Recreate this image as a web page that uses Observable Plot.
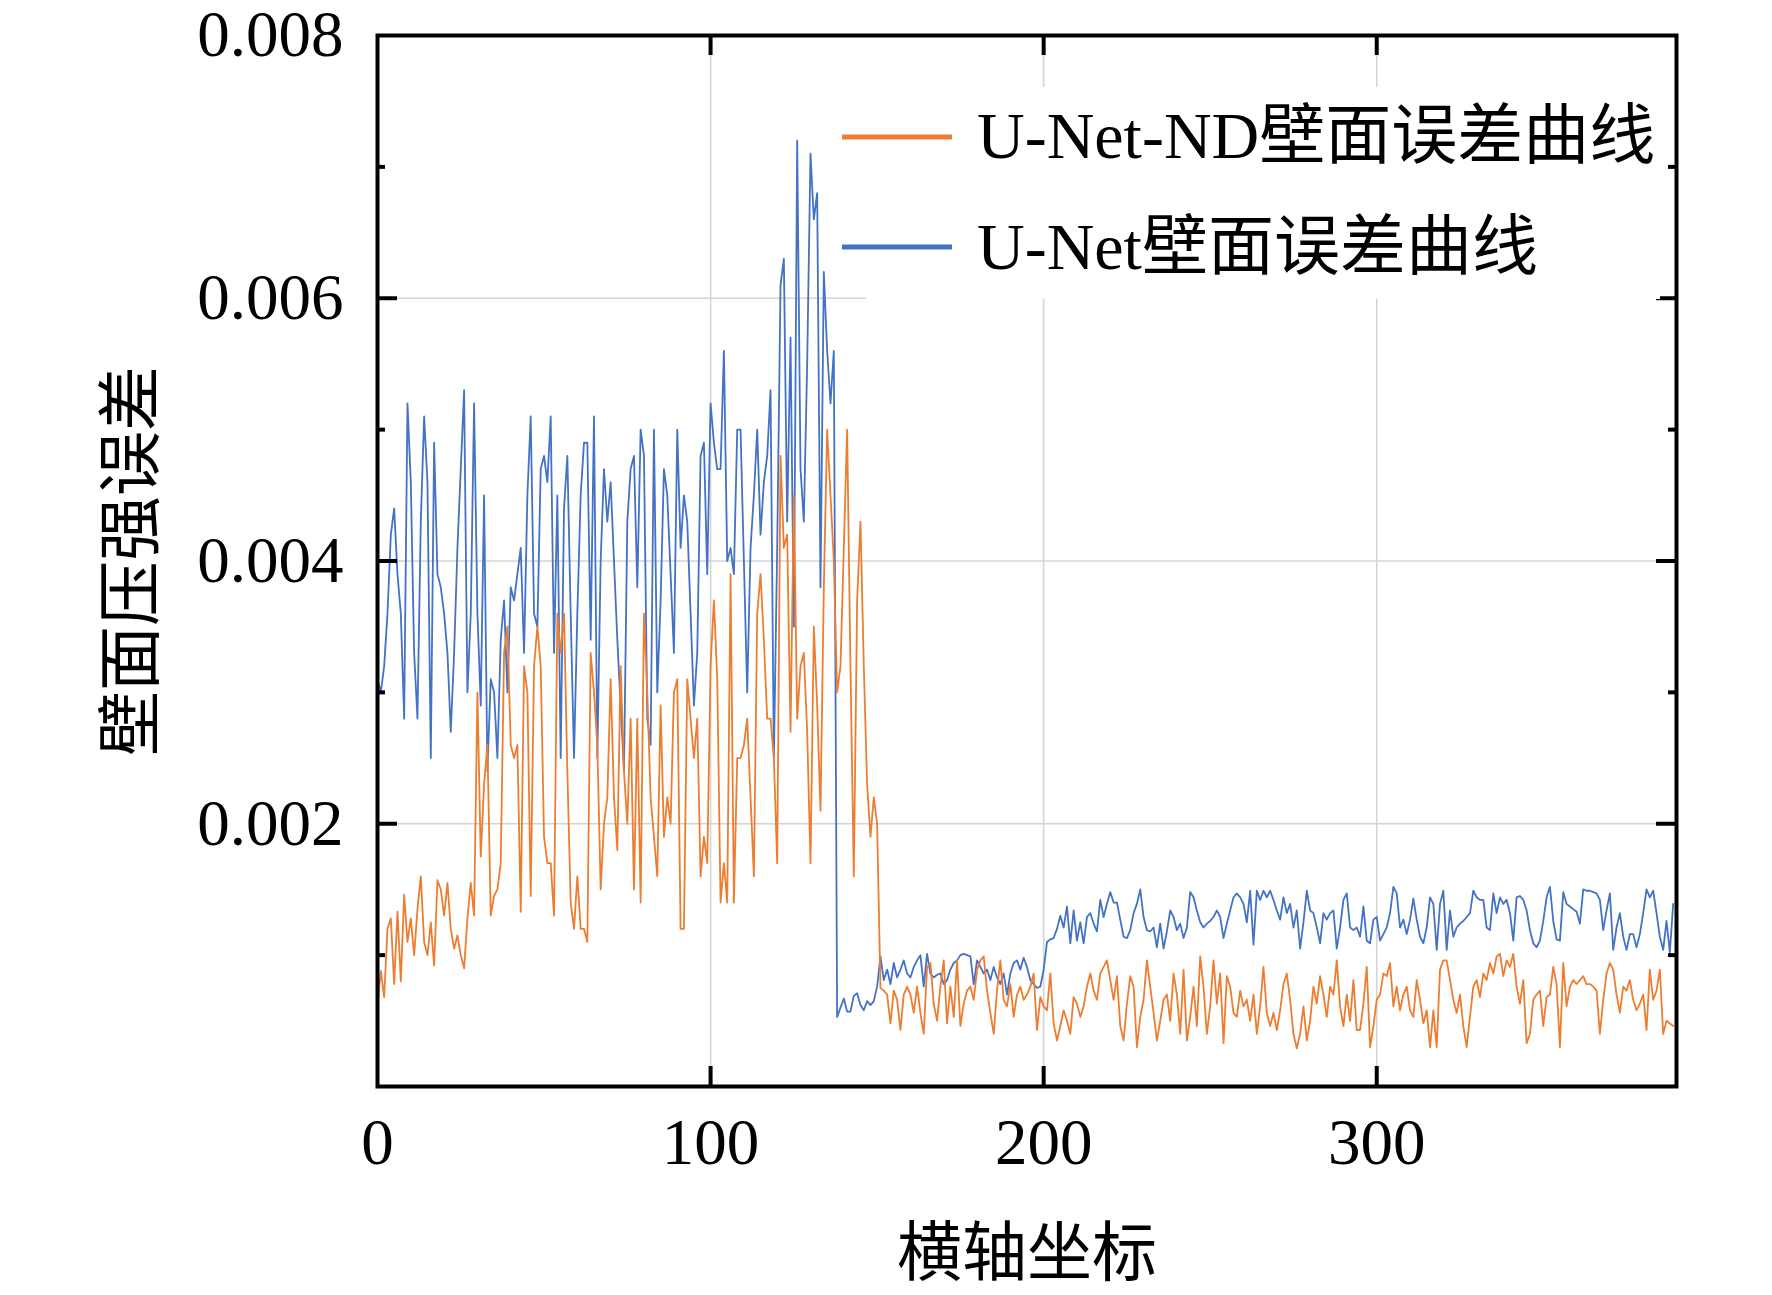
<!DOCTYPE html>
<html>
<head>
<meta charset="utf-8">
<script src="https://cdn.jsdelivr.net/npm/d3@7"></script>
<script src="https://cdn.jsdelivr.net/npm/@observablehq/plot@0.6"></script>
<style>
  html, body { margin: 0; padding: 0; background: #fff; overflow: hidden; }
  #wrap { position: relative; width: 1772px; height: 1295px; }
  #legend { position: absolute; left: 0; top: 0; pointer-events: none; }
</style>
</head>
<body>
<div id="wrap"></div>
<script>
// ---- data ----
const seriesNames = ["U-Net-ND壁面误差曲线", "U-Net壁面误差曲线"];
const xTitle = "横轴坐标";
const yTitle = "壁面压强误差";
const xTickValues = [0, 100, 200, 300];
const yTickValues = [0.002, 0.004, 0.006, 0.008];
const yMajorTicks = [0.002, 0.004, 0.006];
const yMinorTicks = [0.001, 0.003, 0.005, 0.007];
const xMajorTicks = [100, 200, 300];

// U-Net (blue), one value per x = 0..389
const unetValues = [
0.0031,0.0030,0.0032,0.0036,0.0042,0.0044,0.0039,0.0036,0.0028,0.0052,
0.0046,0.0033,0.0028,0.0043,0.0051,0.0046,0.0025,0.0049,0.0039,0.0038,
0.0036,0.0033,0.0027,0.0033,0.0041,0.0047,0.0053,0.0030,0.0036,0.0052,
0.0036,0.0029,0.0045,0.0024,0.0031,0.0030,0.0025,0.0034,0.0037,0.0030,
0.0038,0.0037,0.0039,0.0041,0.0033,0.0045,0.0051,0.0036,0.0035,0.0047,
0.0048,0.0046,0.0051,0.0033,0.0045,0.0025,0.0044,0.0048,0.0036,0.0025,
0.0036,0.0045,0.0049,0.0049,0.0034,0.0051,0.0025,0.0040,0.0047,0.0043,
0.0046,0.0040,0.0034,0.0029,0.0024,0.0043,0.0047,0.0048,0.0038,0.0050,
0.0048,0.0028,0.0026,0.0050,0.0030,0.0037,0.0047,0.0045,0.0039,0.0033,
0.0050,0.0041,0.0045,0.0043,0.0036,0.0029,0.0033,0.0048,0.0049,0.0039,
0.0052,0.0049,0.0047,0.0047,0.0056,0.0040,0.0041,0.0039,0.0050,0.0050,
0.0040,0.0030,0.0041,0.0045,0.0050,0.0042,0.0046,0.0048,0.0053,0.0025,
0.0041,0.0061,0.0063,0.0043,0.0057,0.0035,0.0072,0.0047,0.0043,0.0055,
0.0071,0.0066,0.0068,0.0038,0.0062,0.0056,0.0052,0.0056,0.00053,0.00060,
0.00067,0.00057,0.00057,0.00069,0.00071,0.00062,0.00058,0.00065,0.00062,0.00065,
0.00076,0.00099,0.00081,0.00089,0.00078,0.00094,0.00083,0.00089,0.00096,0.00086,
0.00083,0.00091,0.00096,0.00100,0.00076,0.00101,0.00086,0.00083,0.00085,0.00086,
0.00078,0.00081,0.00089,0.00094,0.00096,0.00100,0.00101,0.00100,0.00099,0.00078,
0.00096,0.00091,0.00086,0.00089,0.00081,0.00091,0.00083,0.00078,0.00086,0.00070,
0.00086,0.00094,0.00096,0.00089,0.00098,0.00091,0.00081,0.00078,0.00075,0.00076,
0.00089,0.00110,0.00112,0.00113,0.00120,0.00130,0.00121,0.00137,0.00109,0.00134,
0.00111,0.00125,0.00109,0.00129,0.00132,0.00124,0.00118,0.00142,0.00129,0.00139,
0.00148,0.00140,0.00140,0.00127,0.00114,0.00113,0.00119,0.00132,0.00139,0.00150,
0.00129,0.00119,0.00118,0.00121,0.00106,0.00124,0.00105,0.00118,0.00134,0.00129,
0.00119,0.00124,0.00113,0.00121,0.00148,0.00144,0.00134,0.00125,0.00121,0.00124,
0.00126,0.00129,0.00134,0.00129,0.00113,0.00124,0.00134,0.00144,0.00147,0.00144,
0.00139,0.00125,0.00149,0.00108,0.00149,0.00142,0.00149,0.00144,0.00149,0.00142,
0.00134,0.00127,0.00144,0.00132,0.00139,0.00121,0.00134,0.00105,0.00125,0.00149,
0.00134,0.00132,0.00121,0.00109,0.00132,0.00127,0.00132,0.00134,0.00105,0.00121,
0.00142,0.00147,0.00121,0.00119,0.00121,0.00114,0.00137,0.00111,0.00109,0.00127,
0.00129,0.00111,0.00116,0.00121,0.00132,0.00152,0.00147,0.00121,0.00127,0.00116,
0.00127,0.00143,0.00127,0.00114,0.00109,0.00121,0.00144,0.00139,0.00104,0.00139,
0.00149,0.00104,0.00134,0.00114,0.00121,0.00124,0.00126,0.00129,0.00132,0.00149,
0.00144,0.00142,0.00142,0.00121,0.00119,0.00147,0.00132,0.00144,0.00139,0.00142,
0.00132,0.00111,0.00144,0.00145,0.00142,0.00134,0.00119,0.00109,0.00106,0.00111,
0.00126,0.00144,0.00152,0.00126,0.00112,0.00111,0.00148,0.00139,0.00137,0.00135,
0.00133,0.00124,0.00150,0.00149,0.00149,0.00148,0.00147,0.00142,0.00119,0.00134,
0.00147,0.00104,0.00121,0.00132,0.00114,0.00104,0.00116,0.00116,0.00106,0.00116,
0.00132,0.00150,0.00144,0.00149,0.00132,0.00114,0.00104,0.00126,0.00102,0.00139
];

// U-Net-ND (orange), one value per x = 0..389
const unetNdValues = [
0.00062,0.00088,0.00068,0.00120,0.00128,0.00078,0.00133,0.00080,0.00146,0.00110,
0.00128,0.00100,0.00135,0.00160,0.00110,0.00100,0.00125,0.00092,0.00157,0.00150,
0.00130,0.00155,0.00120,0.00105,0.00115,0.00100,0.00090,0.00128,0.00155,0.00130,
0.00300,0.00175,0.00230,0.00260,0.00130,0.00145,0.00150,0.00170,0.00330,0.00350,
0.00260,0.00250,0.00260,0.00133,0.00320,0.00300,0.00145,0.00320,0.00350,0.00320,
0.0019,0.0017,0.0017,0.0013,0.0036,0.0033,0.0036,0.0024,0.0014,0.0012,
0.0016,0.0012,0.0012,0.0011,0.0033,0.0030,0.0026,0.0015,0.0020,0.0022,
0.0031,0.0022,0.0018,0.0032,0.0024,0.0020,0.0028,0.0015,0.0028,0.0014,
0.0036,0.0030,0.0022,0.0019,0.0016,0.0029,0.0019,0.0022,0.0020,0.0030,
0.0031,0.0012,0.0012,0.0031,0.0028,0.0025,0.0028,0.0016,0.0019,0.0017,
0.0032,0.0037,0.0031,0.0014,0.0017,0.0014,0.0039,0.0014,0.0025,0.0025,
0.0026,0.0028,0.0022,0.0016,0.0036,0.0039,0.0034,0.0028,0.0028,0.0025,
0.0017,0.0048,0.0041,0.0042,0.0027,0.0045,0.0028,0.0032,0.0033,0.0027,
0.0017,0.0035,0.0029,0.0021,0.0038,0.0050,0.0045,0.0040,0.0030,0.0032,
0.0041,0.0050,0.0032,0.0016,0.0037,0.0043,0.0032,0.0023,0.0019,0.0022,
0.0020,0.00075,0.00073,0.00070,0.00048,0.00073,0.00066,0.00043,0.00070,0.00076,
0.00070,0.00056,0.00076,0.00056,0.00040,0.00091,0.00094,0.00063,0.00050,0.00076,
0.00096,0.00048,0.00076,0.00053,0.00096,0.00046,0.00063,0.00073,0.00076,0.00066,
0.00089,0.00096,0.00099,0.00073,0.00056,0.00040,0.00073,0.00096,0.00066,0.00061,
0.00078,0.00053,0.00070,0.00076,0.00066,0.00070,0.00076,0.00086,0.00043,0.00068,
0.00061,0.00058,0.00086,0.00048,0.00035,0.00046,0.00058,0.00050,0.00040,0.00068,
0.00063,0.00053,0.00061,0.00076,0.00086,0.00073,0.00066,0.00086,0.00091,0.00096,
0.00081,0.00066,0.00084,0.00046,0.00035,0.00063,0.00084,0.00076,0.00030,0.00053,
0.00066,0.00096,0.00076,0.00056,0.00035,0.00050,0.00066,0.00070,0.00050,0.00086,
0.00070,0.00040,0.00089,0.00035,0.00053,0.00076,0.00046,0.00099,0.00076,0.00040,
0.00061,0.00096,0.00063,0.00086,0.00033,0.00084,0.00076,0.00056,0.00053,0.00073,
0.00061,0.00066,0.00050,0.00070,0.00040,0.00061,0.00091,0.00056,0.00046,0.00056,
0.00043,0.00058,0.00078,0.00086,0.00066,0.00040,0.00029,0.00040,0.00061,0.00035,
0.00050,0.00076,0.00063,0.00084,0.00070,0.00053,0.00076,0.00070,0.00096,0.00061,
0.00046,0.00070,0.00050,0.00081,0.00043,0.00043,0.00063,0.00091,0.00030,0.00046,
0.00066,0.00070,0.00086,0.00084,0.00094,0.00061,0.00076,0.00058,0.00070,0.00076,
0.00058,0.00053,0.00081,0.00066,0.00048,0.00058,0.00030,0.00058,0.00030,0.00089,
0.00096,0.00096,0.00081,0.00066,0.00056,0.00070,0.00046,0.00030,0.00053,0.00076,
0.00081,0.00068,0.00086,0.00081,0.00094,0.00086,0.00099,0.00101,0.00084,0.00096,
0.00091,0.00101,0.00076,0.00063,0.00081,0.00033,0.00040,0.00066,0.00070,0.00073,
0.00046,0.00068,0.00070,0.00091,0.00078,0.00030,0.00094,0.00061,0.00076,0.00081,
0.00078,0.00081,0.00084,0.00078,0.00078,0.00076,0.00073,0.00040,0.00066,0.00086,
0.00094,0.00089,0.00070,0.00056,0.00076,0.00073,0.00081,0.00066,0.00058,0.00063,
0.00070,0.00043,0.00089,0.00066,0.00073,0.00089,0.00040,0.00050,0.00048,0.00046
];

const colorND = "#ED7D31";
const colorNet = "#4472C4";

const unetRows = unetValues.map((v, i) => ({x: i, v}));
const unetNdRows = unetNdValues.map((v, i) => ({x: i, v}));

const W = 1772, H = 1295;
const mL = 377, mR = 96, mT = 35, mB = 209;
const plotW = W - mL - mR, plotH = H - mT - mB;
const font = "'Liberation Serif', 'Times New Roman', 'Noto Sans CJK SC', serif";

const chart = Plot.plot({
  width: W,
  height: H,
  marginLeft: mL, marginRight: mR, marginTop: mT, marginBottom: mB,
  style: {fontFamily: font, background: "white", color: "black"},
  x: {domain: [0, 390]},
  y: {domain: [0, 0.008]},
  marks: [
    Plot.gridY(yMajorTicks, {stroke: "#d4d4d4", strokeOpacity: 1, strokeWidth: 1.6}),
    Plot.gridX(xMajorTicks, {stroke: "#d4d4d4", strokeOpacity: 1, strokeWidth: 1.6}),
    Plot.line(unetRows, {x: "x", y: "v", stroke: colorNet, strokeWidth: 1.8}),
    Plot.line(unetNdRows, {x: "x", y: "v", stroke: colorND, strokeWidth: 1.8}),
    Plot.frame({stroke: "black", strokeWidth: 4}),
    Plot.ruleY(yMajorTicks, {stroke: "black", strokeWidth: 4, insetRight: plotW - 20}),
    Plot.ruleY(yMajorTicks, {stroke: "black", strokeWidth: 4, insetLeft: plotW - 20}),
    Plot.ruleY(yMinorTicks, {stroke: "black", strokeWidth: 4, insetRight: plotW - 8}),
    Plot.ruleY(yMinorTicks, {stroke: "black", strokeWidth: 4, insetLeft: plotW - 8}),
    Plot.ruleX(xMajorTicks, {stroke: "black", strokeWidth: 4, insetTop: plotH - 20}),
    Plot.ruleX(xMajorTicks, {stroke: "black", strokeWidth: 4, insetBottom: plotH - 20}),
    Plot.axisY(yTickValues, {tickSize: 0, tickPadding: 34, fontSize: 65, tickFormat: d3.format(".3f"), label: null}),
    Plot.axisX(xTickValues, {tickSize: 0, tickPadding: 31, fontSize: 65, label: null}),
    Plot.text([xTitle], {text: d => d, frameAnchor: "bottom", dy: 168, lineAnchor: "middle", textAnchor: "middle", fontSize: 65}),
    Plot.text([yTitle], {text: d => d, frameAnchor: "left", dx: -245, rotate: -90, lineAnchor: "middle", textAnchor: "middle", fontSize: 65})
  ]
});

const wrap = document.getElementById("wrap");
wrap.appendChild(chart);

// legend overlay (white box over the grid, top-right inside the frame)
const ns = "http://www.w3.org/2000/svg";
const leg = document.createElementNS(ns, "svg");
leg.setAttribute("id", "legend");
leg.setAttribute("width", W);
leg.setAttribute("height", H);
const box = document.createElementNS(ns, "rect");
box.setAttribute("x", 866); box.setAttribute("y", 87);
box.setAttribute("width", 794); box.setAttribute("height", 212);
box.setAttribute("fill", "white");
leg.appendChild(box);
const entries = [
  {name: seriesNames[0], color: colorND, ly: 137, ty: 158},
  {name: seriesNames[1], color: colorNet, ly: 247, ty: 269}
];
for (const e of entries) {
  const ln = document.createElementNS(ns, "line");
  ln.setAttribute("x1", 842); ln.setAttribute("x2", 952);
  ln.setAttribute("y1", e.ly); ln.setAttribute("y2", e.ly);
  ln.setAttribute("stroke", e.color); ln.setAttribute("stroke-width", 5);
  leg.appendChild(ln);
  const tx = document.createElementNS(ns, "text");
  tx.setAttribute("x", 977); tx.setAttribute("y", e.ty);
  tx.setAttribute("font-size", 66);
  tx.setAttribute("font-family", font);
  tx.setAttribute("fill", "black");
  tx.textContent = e.name;
  leg.appendChild(tx);
}
wrap.appendChild(leg);
</script>
</body>
</html>
